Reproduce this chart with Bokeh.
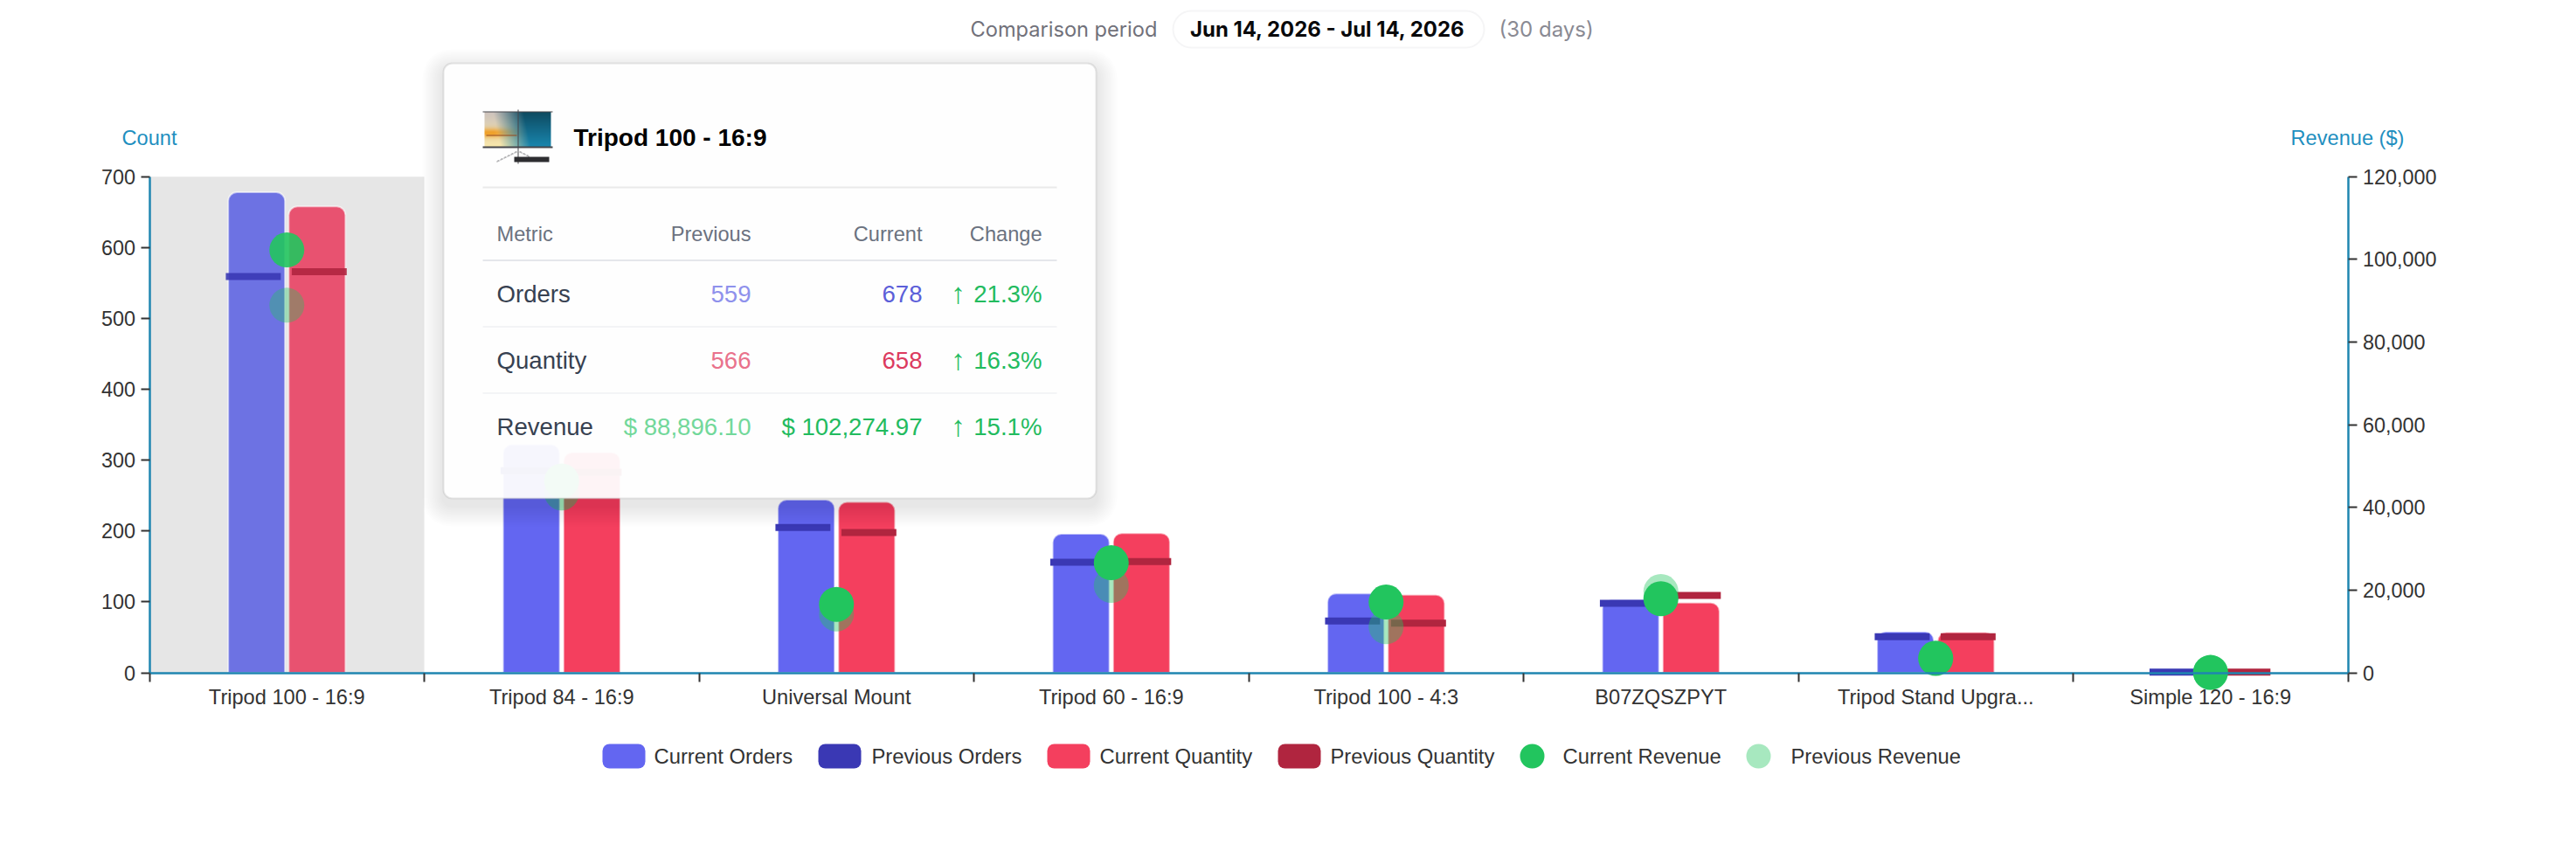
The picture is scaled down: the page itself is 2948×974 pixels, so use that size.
import numpy as np
from bokeh.embed import file_html
from bokeh.resources import INLINE
from bokeh.plotting import figure
from bokeh.models import (BoxAnnotation, ColumnDataSource, FixedTicker, Label,
                          LinearAxis, NumeralTickFormatter, Range1d)
from bokeh.transform import dodge

categories = ["Tripod 100 - 16:9", "Tripod 84 - 16:9", "Universal Mount", "Tripod 60 - 16:9",
              "Tripod 100 - 4:3", "B07ZQSZPYT", "Tripod Stand Upgra...", "Simple 120 - 16:9"]
current_orders = [678, 322, 244, 196, 112, 103, 58, 1]
previous_orders = [559, 285, 205, 156, 73, 98, 51, 1]
current_quantity = [658, 311, 241, 197, 110, 99, 57, 1]
previous_quantity = [566, 283, 198, 157, 70, 109, 51, 1]
current_revenue = [102274.97, 46400, 16550, 26620, 17110, 17890, 3520, 80]
previous_revenue = [88896.10, 43500, 14230, 21130, 11130, 19650, 3400, 60]
count_ticks = [0, 100, 200, 300, 400, 500, 600, 700]
revenue_ticks = [0, 20000, 40000, 60000, 80000, 100000, 120000]
band_edges = [0, 1, 2, 3, 4, 5, 6, 7, 8]
group_alpha = [0.9, 1, 1, 1, 1, 1, 1, 1]

tooltip_title = "Tripod 100 - 16:9"
tooltip_header = ["Metric", "Previous", "Current", "Change"]
tooltip_metrics = ["Orders", "Quantity", "Revenue"]
tooltip_previous = ["559", "566", "$ 88,896.10"]
tooltip_current = ["678", "658", "$ 102,274.97"]
tooltip_change = ["21.3%", "16.3%", "15.1%"]
legend_labels = ["Current Orders", "Previous Orders", "Current Quantity", "Previous Quantity",
                 "Current Revenue", "Previous Revenue"]

INDIGO, INDIGO_DK, ROSE, ROSE_DK, GREEN = "#6366f1", "#3a38b4", "#f43f5e", "#b0253f", "#22c55e"
AXIS = "#1f86b0"
SANS = "Liberation Sans"
orders_fill = ["#6d72e3"] + [INDIGO] * 7
quantity_fill = ["#e85270"] + [ROSE] * 7

# canvas size and the page pixels of the axes
CW, CH = 2932, 958
AX_L, AX_R, Y0, Y700 = 170.5, 2686.5, 769.5, 201.7
per_band = (AX_R - AX_L) / len(categories)
per_px = 700 / (Y0 - Y700)
x_range = Range1d(-AX_L / per_band, len(categories) + (CW - AX_R) / per_band)
count_range = Range1d(-(CH - Y0) * per_px, Y0 * per_px)
revenue_range = Range1d(-(CH - Y0) * per_px * 120000 / 700, Y0 * per_px * 120000 / 700)

p = figure(width=CW, height=CH, x_range=x_range, y_range=count_range,
           output_backend="svg", toolbar_location=None, tools="",
           min_border_left=0, min_border_right=0, min_border_top=0, min_border_bottom=0,
           x_axis_type=None, y_axis_type=None)
p.grid.visible = False
p.outline_line_color = None
p.background_fill_color = "white"
p.extra_x_ranges = {"px": Range1d(0, CW)}
p.extra_y_ranges = {"py": Range1d(CH, 0), "revenue": revenue_range}

centers = [i + 0.5 for i in range(len(categories))]

# axes -----------------------------------------------------------------
TICK = dict(major_label_text_font=SANS, major_label_text_font_size="23.4px",
            major_label_text_color="#333333", major_tick_line_color="#333333",
            major_tick_line_width=2, major_tick_in=0, major_tick_out=10,
            minor_tick_line_color=None, axis_line_color=AXIS, axis_line_width=2.5)
left = LinearAxis(fixed_location=band_edges[0], bounds=(0, 700), ticker=FixedTicker(ticks=count_ticks),
                  major_label_standoff=6, **TICK)
right = LinearAxis(fixed_location=band_edges[-1], y_range_name="revenue", bounds=(0, 120000),
                   ticker=FixedTicker(ticks=revenue_ticks),
                   formatter=NumeralTickFormatter(format="0,0"), major_label_standoff=7, **TICK)
p.add_layout(left, "left")
p.add_layout(right, "right")
edges = LinearAxis(fixed_location=0, bounds=(0, len(categories)), ticker=FixedTicker(ticks=band_edges),
                   major_label_overrides={e: "" for e in band_edges}, **TICK)
p.add_layout(edges, "below")
names = LinearAxis(fixed_location=0, ticker=FixedTicker(ticks=centers),
                   major_label_overrides=dict(zip(centers, categories)),
                   major_tick_line_color=None, minor_tick_line_color=None, major_tick_in=0, major_tick_out=0,
                   axis_line_color=None, major_label_text_font=SANS,
                   major_label_text_font_size="23.6px", major_label_text_color="#333333",
                   major_label_standoff=15, major_label_orientation="horizontal")
p.add_layout(names, "below")

# marks ----------------------------------------------------------------
src = ColumnDataSource(dict(pos=centers, co=current_orders, po=previous_orders, cq=current_quantity,
                            pq=previous_quantity, cr=current_revenue, pr=previous_revenue,
                            of=orders_fill, qf=quantity_fill,
                            a=group_alpha, pa=[v * 0.4 for v in group_alpha]))
p.vbar(x=centers[:1], top=count_ticks[-1:], bottom=0, width=1, fill_color="#e6e6e6", line_color=None)

BAR_W = 65 / 314.5
for col, off, color in (("co", -0.11, "of"), ("cq", 0.11, "qf")):
    p.vbar(x=dodge("pos", off), top=col, bottom=0, width=BAR_W, source=src,
           fill_color=color, line_color="white", line_width=2, line_alpha=0.55,
           border_radius=(10, 10, 0, 0))
for col, off, color in (("po", -0.122, INDIGO_DK), ("pq", 0.118, ROSE_DK)):
    p.rect(x=dodge("pos", off), y=col, width=0.2, height=8, height_units="screen",
           source=src, fill_color=color, fill_alpha="a", line_color=None)
p.scatter(x="pos", y="pr", y_range_name="revenue", size=40, source=src, fill_color=GREEN,
          fill_alpha="pa", line_color=None, level="guide")
p.scatter(x="pos", y="cr", y_range_name="revenue", size=40, source=src, fill_color=GREEN,
          fill_alpha="a", line_color=None, level="guide")


def box(l, r, t, b, fill, alpha=1.0, radius=0, line=None, lw=0):
    p.add_layout(BoxAnnotation(left=l, right=r, top=t, bottom=b, x_range_name="px", y_range_name="py",
                               fill_color=fill, fill_alpha=alpha, line_color=line, line_width=lw,
                               border_radius=radius, level="annotation"))


def text(x, y, s, size, color, align="left", font=SANS, style="normal"):
    p.add_layout(Label(x=x, y=y, text=s, x_range_name="px", y_range_name="py", text_font=font,
                       text_font_size=f"{size}px", text_color=color, text_align=align,
                       text_baseline="middle", text_font_style=style))


# axis titles ----------------------------------------------------------
text(170.5, 157.5, "Count", 23.6, "#1f8fc0", "center")
text(2686, 157.5, "Revenue ($)", 23.6, "#1f8fc0", "center")

# comparison header ----------------------------------------------------
text(1110, 33, "Comparison period", 23.6, "#71717a", font="Inter")
box(1342, 1698, 12, 54, "white", radius=21, line="#dedee2", lw=2)
text(1519, 33, "Jun 14, 2026 - Jul 14, 2026", 23.9, "#09090b", "center", font="Inter", style="bold")
text(1715, 33, "(30 days)", 24, "#8a8a93", font="Inter")

# legend ---------------------------------------------------------------
for (l, t_x, color, label) in ((689, 748, INDIGO, 0), (936, 997, INDIGO_DK, 1),
                               (1198, 1258, ROSE, 2), (1462, 1522, ROSE_DK, 3)):
    box(l, l + 49, 851, 879, color, radius=8)
    text(t_x, 865, legend_labels[label], 23.8, "#333333")
box(1739, 1767, 851, 879, GREEN, radius=14)
text(1788, 865, legend_labels[4], 23.8, "#333333")
box(1998, 2026, 851, 879, GREEN, alpha=0.4, radius=14)
text(2049, 865, legend_labels[5], 23.8, "#333333")

# tooltip --------------------------------------------------------------
TL, TR, TT, TB = 507, 1254, 72, 570
for i in range(12):
    grow = 24 - 2 * i
    box(TL - grow, TR + grow, TT - grow + 8, TB + grow + 8, "black", alpha=0.008, radius=8 + grow)
box(TL, TR, TT, TB, "white", alpha=0.95, radius=10, line="#b0b0b0", lw=2)
text(656, 157, tooltip_title, 28, "#000000", style="bold")
box(552, 1209, 213, 215, "#eaeaea")
box(552, 1209, 296.5, 298.5, "#e5e7eb")
box(552, 1209, 372.5, 374.5, "#f3f4f6")
box(552, 1209, 448.5, 450.5, "#f3f4f6")
for x, s, a in zip((568, 859, 1055, 1192), tooltip_header, ("left", "right", "right", "right")):
    text(x, 267.5, s, 23.6, "#6b7280", a)
row_y = [336, 412, 488]
prev_colors = ["#8f91ec", "#e9728c", "#72d89a"]
curr_colors = ["#5c5fd9", "#dc3a5e", "#22bb5e"]
for i, y in enumerate(row_y):
    text(568, y, tooltip_metrics[i], 27.6, "#374151")
    text(859, y, tooltip_previous[i], 27.6, prev_colors[i], "right")
    text(1055, y, tooltip_current[i], 27.6, curr_colors[i], "right")
    text(1096, y - 1, "↑", 33, "#22bb5e", "center")
    text(1192, y, tooltip_change[i], 27.6, "#22bb5e", "right")

# product thumbnail (small picture, 2 cells per pixel) ------------------
H, W = 160, 160
rr, cc = np.mgrid[0:H, 0:W]
u, v = cc / (W - 1), np.clip((rr - 6) / 100, 0, 1)
thumb = np.zeros((H, W, 4), dtype=float)


def rgb(c):
    return np.array(c, dtype=float)[None, None, :]


teal = rgb((25, 135, 175)) * (1 - (1 - v[..., None]) * 0.45)
pale = rgb((205, 195, 190)) * (1 - v[..., None]) + rgb((250, 232, 170)) * v[..., None]
glow = np.exp(-(((v - 0.6) / 0.13) ** 2))[..., None] * np.clip(1.3 - 2 * u, 0, 1)[..., None]
pale = pale * (1 - glow) + rgb((240, 160, 40)) * glow
mix = np.clip(1.45 - 2.3 * u + 0.25 * (v - 0.5), 0, 1)[..., None]
pic = teal * (1 - mix) + pale * mix
inside = (rr >= 8) & (rr < 104) & (cc >= 4) & (cc < 156)
thumb[inside, :3] = pic[inside]
thumb[inside, 3] = 255
horizon = (rr >= 72) & (rr < 76) & (cc >= 8) & (cc < 78)
thumb[horizon] = (150, 70, 25, 255)
for region in ((rr >= 4) & (rr < 8) & (cc >= 0) & (cc < W), (rr >= 104) & (rr < 110) & (cc >= 0) & (cc < W),
               (cc >= 79) & (cc < 81) & (rr >= 0) & (rr < 154)):
    thumb[region] = (70, 70, 75, 255)
legs = (np.abs((cc - 80) + (rr - 118) * 1.6) < 1.4) | (np.abs((cc - 80) - (rr - 118) * 1.6) < 1.4)
thumb[legs & (rr >= 118) & (rr < 150) & (cc < 106)] = (110, 110, 115, 255)
thumb[(rr >= 136) & (rr < 150) & (cc >= 72) & (cc < 152)] = (45, 45, 48, 255)
thumb = thumb.astype(np.uint8)
p.image_rgba(image=[thumb.view(np.uint32).reshape(H, W)], x=552, y=125, dw=80, dh=64,
             x_range_name="px", y_range_name="py", level="overlay")

open("out.html", "w").write(file_html(p, INLINE))
